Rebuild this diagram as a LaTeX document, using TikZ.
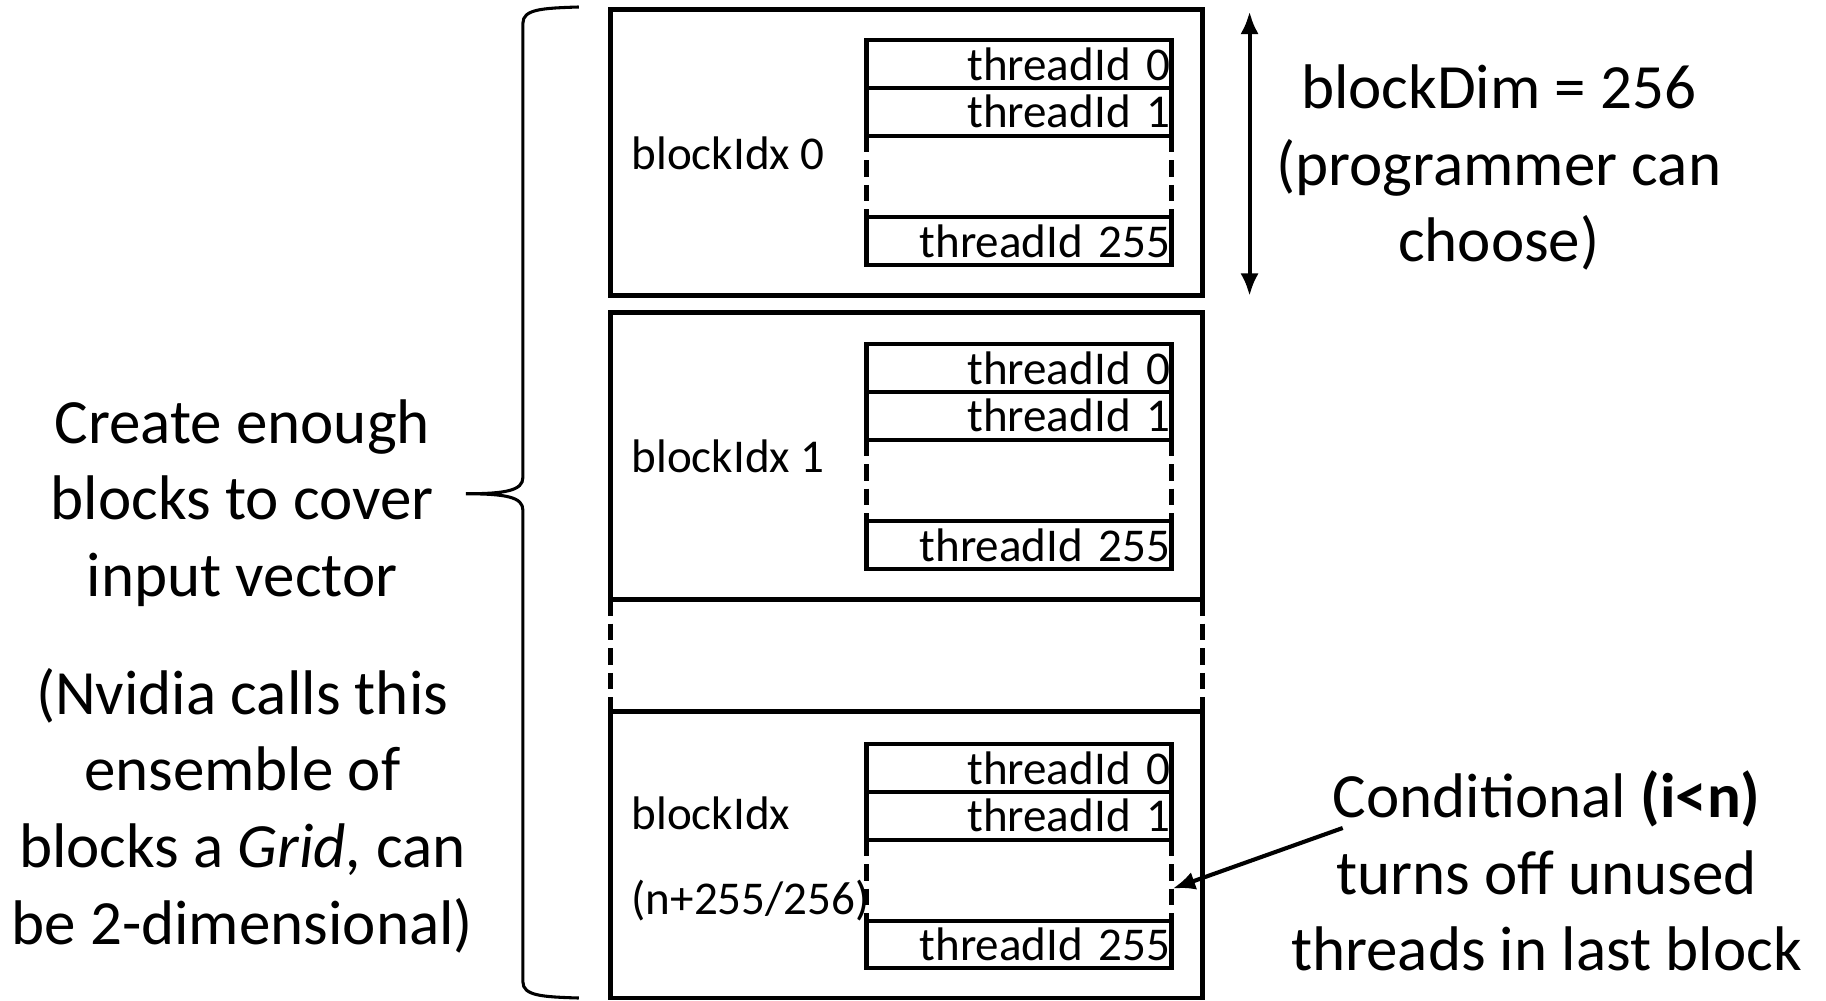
\documentclass[tikz,border=0pt]{standalone}
\usepackage{fontspec}
\setmainfont{Carlito}
\usetikzlibrary{arrows.meta}

\newcommand\notefont{\fontsize{30.8}{37.5}\selectfont}
\newcommand\cellfont{\fontsize{23}{28}\selectfont}

\tikzset{
  block/.style = {draw, line width=2.4pt, minimum width=10.18cm, minimum height=4.92cm, inner sep=0pt, outer sep=0pt},
  thread/.style = {draw, line width=2pt, minimum width=5.24cm, minimum height=0.82cm, outer sep=0pt,
                   text width=5.2cm, align=right, inner xsep=0.02cm, inner ysep=0pt, font=\cellfont},
  idx/.style = {anchor=west, inner sep=0pt, font=\cellfont},
  note/.style = {align=center, inner sep=0pt, font=\notefont},
  gapline/.style = {line width=2pt, dash pattern=on 8pt off 4pt},
  pointer/.style = {line width=2pt, -{Latex[length=11pt,width=9pt]}},
}

\begin{document}
\begin{tikzpicture}[x=0.02cm, y=-0.02cm]
    \useasboundingbox (0,0) rectangle (1568,859);

    % blocks of the grid
    \node[block] at (778.5, 131) (blk0) {};
    \node[block] at (778.5, 391.5) (blk1) {};
    \node[block] at (778.5, 734) (blk2) {};
    \draw [gapline, line width=2.4pt] (blk1.south west) -- (blk2.north west);
    \draw [gapline, line width=2.4pt] (blk1.south east) -- (blk2.north east);

    \node[idx] at (542, 132) (idx0) {blockIdx 0};
    \node[idx] at (542, 392) (idx1) {blockIdx 1};
    \node[idx] at (542, 698) (idx2) {blockIdx};
    \node[idx] at (542, 773) (idx2n) {(n+255/256)};

    % threads in each block
    \node[thread] at (875, 55) (b0t0) {threadId 0};
    \node[thread] at (875, 96) (b0t1) {threadId 1};
    \node[thread] at (875, 207) (b0tl) {threadId 255};
    \draw [gapline] (b0t1.south west) -- (b0tl.north west);
    \draw [gapline] (b0t1.south east) -- (b0tl.north east);

    \node[thread] at (875, 316) (b1t0) {threadId 0};
    \node[thread] at (875, 357) (b1t1) {threadId 1};
    \node[thread] at (875, 468) (b1tl) {threadId 255};
    \draw [gapline] (b1t1.south west) -- (b1tl.north west);
    \draw [gapline] (b1t1.south east) -- (b1tl.north east);

    \node[thread] at (875, 659.5) (b2t0) {threadId 0};
    \node[thread] at (875, 700.5) (b2t1) {threadId 1};
    \node[thread] at (875, 811) (b2tl) {threadId 255};
    \draw [gapline] (b2t1.south west) -- (b2tl.north west);
    \draw [gapline] (b2t1.south east) -- (b2tl.north east);

    % brace round the grid
    \draw [line width=1.5pt] (497,6) .. controls (465,7) and (449,8) .. (449,20) -- (449,410)
          .. controls (449,421) and (435,424) .. (400,424)
          .. controls (435,424) and (449,427) .. (449,438) -- (449,843)
          .. controls (449,855) and (465,856) .. (497,857);

    \node[note] at (208, 432) (cover) {Create enough\\blocks to cover\\input vector};
    \node[note] at (208, 696) (gridnote) {(Nvidia calls this\\ensemble of\\blocks a \textit{Grid,} can\\be 2-dimensional)};

    % block size
    \coordinate (dimtop) at (1073, 10);
    \coordinate (dimbot) at (1073, 254);
    \draw [line width=2pt, {Latex[length=11pt,width=9pt]}-{Latex[length=11pt,width=9pt]}] (dimtop) -- (dimbot);
    \node[note] at (1287, 144) (dim) {blockDim = 256\\(programmer can\\choose)};

    % conditional
    \node[note] at (1328, 748) (cond) {Conditional \textbf{(i<n)}\\turns off unused\\threads in last block};
    \coordinate (condtail) at (1153, 711);
    \coordinate (gaptip) at (1007, 763);
    \draw [pointer] (condtail) -- (gaptip);
\end{tikzpicture}
\end{document}
